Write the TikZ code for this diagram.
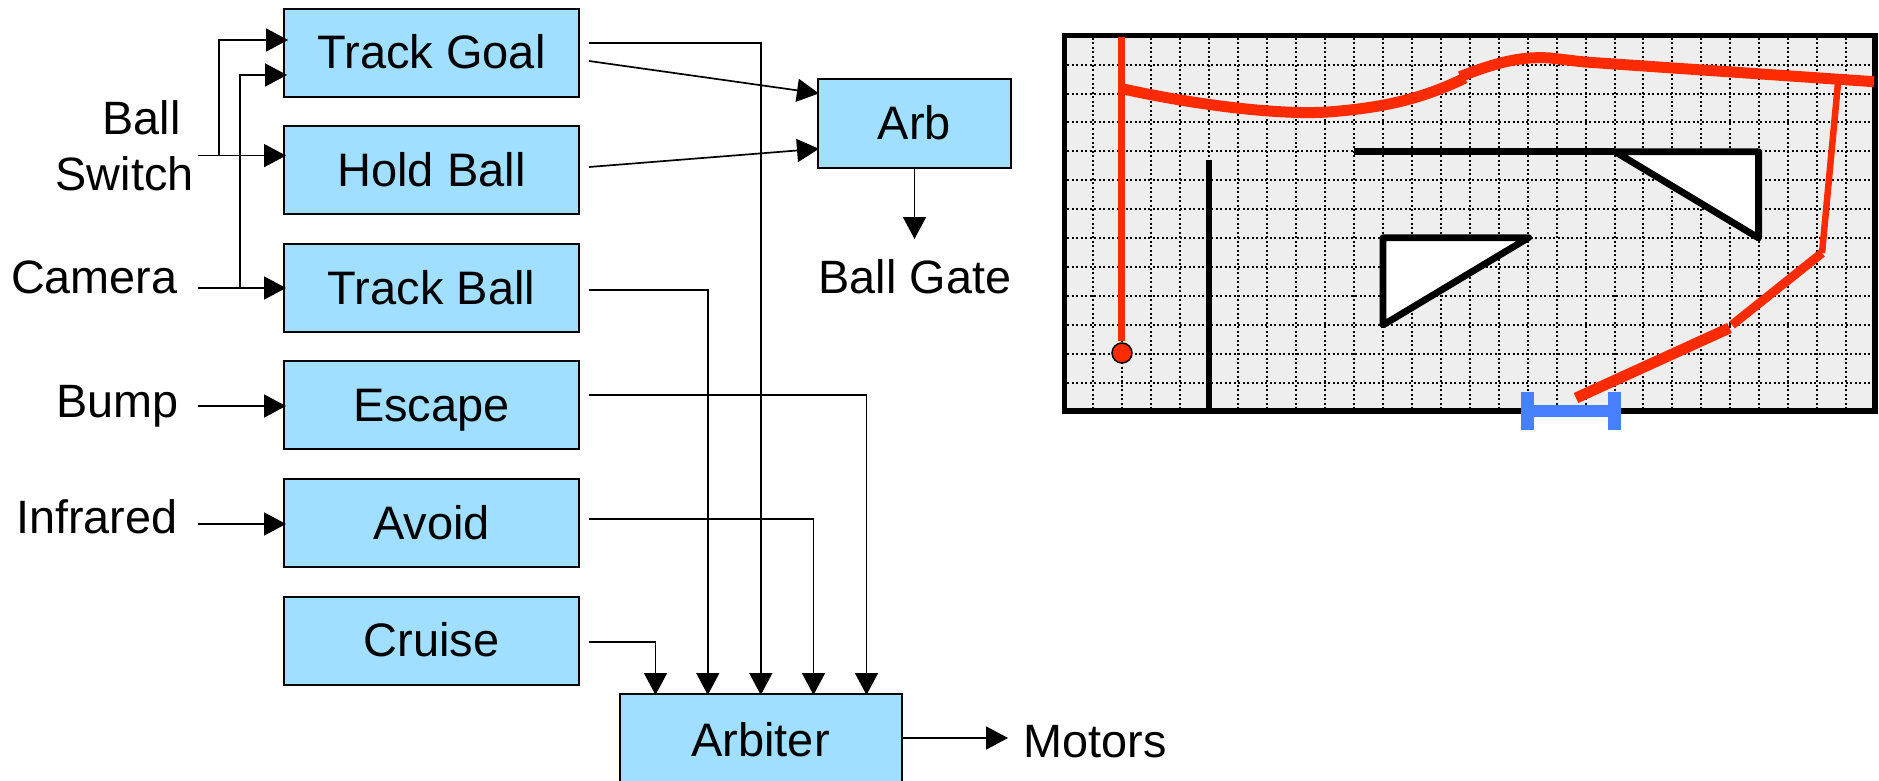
\documentclass[tikz,border=0pt]{standalone}
\usepackage{fontspec}
\setmainfont{Liberation Sans}
\usetikzlibrary{arrows.meta,calc}
\definecolor{boxblue}{HTML}{A0DFFF}
\definecolor{pathred}{HTML}{FF2B00}
\definecolor{gatblue}{HTML}{4680FF}
\definecolor{mapgrey}{HTML}{EEEEEE}
\tikzset{
  x=0.5pt,y=-0.5pt,
  box/.style={draw=black,line width=1pt,fill=boxblue,minimum width=147.5pt,minimum height=44pt,inner sep=0pt,
    font=\fontsize{23.5}{27}\selectfont,text height=17.5pt,text depth=1.5pt},
  lab/.style={font=\fontsize{23.4}{27}\selectfont,inner sep=0pt},
  arr/.style={line width=0.85pt,shorten >=-1.5pt,-{Triangle[length=11pt,width=11.5pt]}},
  griddot/.style={line width=1pt,black,dash pattern=on 1pt off 1.25pt},
  wall/.style={line width=3.4pt,black,line join=round},
  thinred/.style={line width=3.25pt,pathred},
  thickred/.style={line width=5.5pt,pathred},
}
\begin{document}
\begin{tikzpicture}
\useasboundingbox (0,0) rectangle (1879,781);
\clip (0,0) rectangle (1879,781);
% boxes
\node[box] (goal) at (431.5,53) {Track Goal};
\node[box] (hold) at (431.5,170) {Hold Ball};
\node[box] (track) at (431.5,288) {Track Ball};
\node[box] (escape) at (431.5,405) {Escape};
\node[box] (avoid) at (431.5,523) {Avoid};
\node[box] (cruise) at (431.5,640.5) {Cruise};
\node[box,minimum width=96.5pt] (arb) at (914.5,123.5) {Arb};
\node[box,minimum width=141pt,minimum height=46pt] (arbiter) at (760.5,740) {Arbiter};
% labels
\node[lab,anchor=base east] (ball) at (181,134) {Ball};
\node[lab,anchor=base east] (switch) at (194,191) {Switch};
\node[lab,anchor=base east] (camera) at (178,293) {Camera};
\node[lab,anchor=base east] (bump) at (179,417) {Bump};
\node[lab,anchor=base east] (infrared) at (178,533) {Infrared};
\node[lab,anchor=base] (gate) at (915,293.5) {Ball Gate};
\node[lab,anchor=base west] (motors) at (1023,757) {Motors};
% free ends and entry points
\coordinate (swout) at (198,155.6);
\coordinate (camout) at (198,288);
\coordinate (bumpout) at (198,406);
\coordinate (irout) at (198,524);
\coordinate (swb) at (219,155.6);
\coordinate (camb) at (240,288);
\coordinate (goalA) at (285,40);
\coordinate (goalB) at (284,75);
\coordinate (gateend) at (914.5,236);
\coordinate (motorend) at (1005,738);
% inputs
\draw[arr] (swout) -- (hold.west |- swout);
\draw[arr] (swb) |- (goalA);
\draw[arr] (camout) -- (track.west |- camout);
\draw[arr] (camb) |- (goalB);
\draw[arr] (bumpout) -- (escape.west |- bumpout);
\draw[arr] (irout) -- (avoid.west |- irout);
% outputs to Arb
\draw[arr] (589,61) -- (816,93);
\draw[arr] (589,167) -- (816,149);
\draw[arr] (arb.south) -- (gateend);
% outputs to Arbiter
\draw[arr] (589,43) -| (760.8,692);
\draw[arr] (589,290) -| (707.8,692);
\draw[arr] (589,395) -| (866.5,692);
\draw[arr] (589,519) -| (813.5,692);
\draw[arr] (589,642) -| (655.5,692);
\draw[arr] (arbiter.east |- motorend) -- (motorend);
% map
\fill[mapgrey] (1064.5,35.5) rectangle (1875,411);
\foreach \k in {0,...,26} \draw[griddot] ({1093.4+28.95*\k},38) -- ({1093.4+28.95*\k},408);
\foreach \k in {0,...,11} \draw[griddot] (1067,{64.7+28.9*\k}) -- (1872,{64.7+28.9*\k});
\draw[wall,fill=white] (1615,151.7) -- (1758.6,151.7) -- (1758.6,238) -- cycle;
\draw[wall,fill=white] (1383,237.7) -- (1528.6,237.7) -- (1383,325) -- cycle;
\draw[wall] (1354,151.7) -- (1615,151.7);
\draw[wall,line width=3pt] (1208.6,160) -- (1208.6,411);
\draw[line width=2.9pt,black] (1064.5,35.5) rectangle (1875,411);
% gate
\draw[gatblue,line width=6pt] (1527.6,411) -- (1614.6,411);
\draw[gatblue,line width=6.5pt] (1527.6,392) -- (1527.6,430);
\draw[gatblue,line width=6.5pt] (1614.6,392) -- (1614.6,430);
% path
\draw[thinred] (1121.7,36.7) -- (1121.7,341);
\draw[thickred] (1118.7,88) .. controls (1200,106) and (1280,115) .. (1328,112)
  .. controls (1380,108) and (1420,100) .. (1465,78);
\draw[thickred] (1460,76.7) .. controls (1495,63) and (1520,56) .. (1550,58)
  .. controls (1560,59) and (1570,60.5) .. (1585,62) -- (1874,81.7);
\draw[thinred] (1838,83) -- (1822,253);
\draw[thickred,line width=4.5pt] (1822,253) -- (1732,325);
\draw[thickred] (1729.5,328) -- (1576,398);
\draw[black,line width=0.75pt,fill=pathred] (1122,353) circle [radius=10];
\end{tikzpicture}
\end{document}
